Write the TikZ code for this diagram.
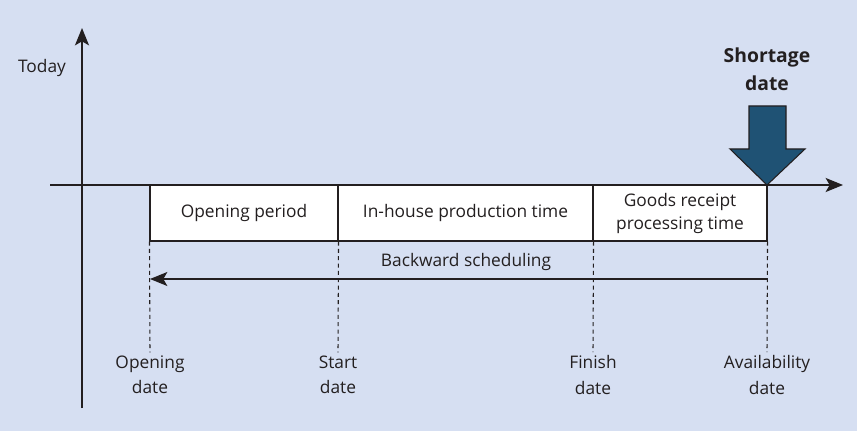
\documentclass[tikz,border=0pt]{standalone}
\usepackage{fontspec}
\setmainfont{Open Sans}
\usepackage{tikz}
\usetikzlibrary{arrows.meta}
\definecolor{bgblue}{HTML}{D6DFF2}
\definecolor{shortblue}{HTML}{1F5274}
\definecolor{inkgray}{HTML}{231F20}

\begin{document}
\begin{tikzpicture}[x=0.75pt,y=-0.75pt,>={Stealth[length=13pt,width=10.5pt,inset=3pt]},
		every node/.style={font=\fontsize{13}{19}\selectfont, text=inkgray},
		period/.style={draw=inkgray, line width=0.8pt, fill=white, minimum height=42pt, inner sep=0pt, align=center},
		axis/.style={draw=inkgray, line width=1.5pt},
		guide/.style={draw=inkgray, line width=0.8pt, dash pattern=on 3pt off 2.5pt},
		datelabel/.style={align=center, inner sep=2.5pt}]
		\fill[bgblue] (0,0) rectangle (857,431);
		\useasboundingbox (0,0) rectangle (857,431);
		%
		\coordinate (vtop) at (82,28);
		\coordinate (vbot) at (82,408);
		\coordinate (hleft) at (50,185);
		\coordinate (hright) at (843,185);
		\node (today) at (42,68) {Today};
		%
		\draw [axis,->] (vbot) -- (vtop);
		\draw [axis,->] (hleft) -- (hright);
		%
		\node[period, minimum width=141pt] (open) at (244,213) {Opening period};
		\node[period, minimum width=191.25pt] (house) at (465.5,213) {In-house production time};
		\node[period, minimum width=130.5pt, font=\fontsize{13}{17.25}\selectfont] (goods) at (680,213) {Goods receipt\\processing time};
		%
		\node[datelabel] (opendate) at (150,375) {Opening\\date};
		\node[datelabel] (startdate) at (338,375) {Start\\date};
		\node[datelabel] (finishdate) at (593,375) {Finish\\date};
		\node[datelabel] (availdate) at (767,375) {Availability\\date};
		%
		\draw [guide] (open.south west) -- (opendate.north);
		\draw [guide] (open.south east) -- (startdate.north);
		\draw [guide] (house.south east) -- (finishdate.north);
		\draw [guide] (goods.south east) -- (availdate.north);
		%
		\coordinate (bstart) at (767,279);
		\coordinate (bend) at (150,279);
		\node (backward) at (466,262) {Backward scheduling};
		\draw [->, draw=inkgray, line width=1.1pt] (bstart) -- (bend);
		%
		\node[font=\bfseries\fontsize{14.5}{21}\selectfont, align=center] (shortage) at (767,69) {Shortage\\date};
		\coordinate (tip) at (767,185);
		\draw [fill=shortblue, draw=inkgray, line width=0.8pt]
			(749,106) -- (786,106) -- (786,149) -- (805,149) -- (tip) -- (730,149) -- (749,149) -- cycle;
	\end{tikzpicture}
\end{document}
